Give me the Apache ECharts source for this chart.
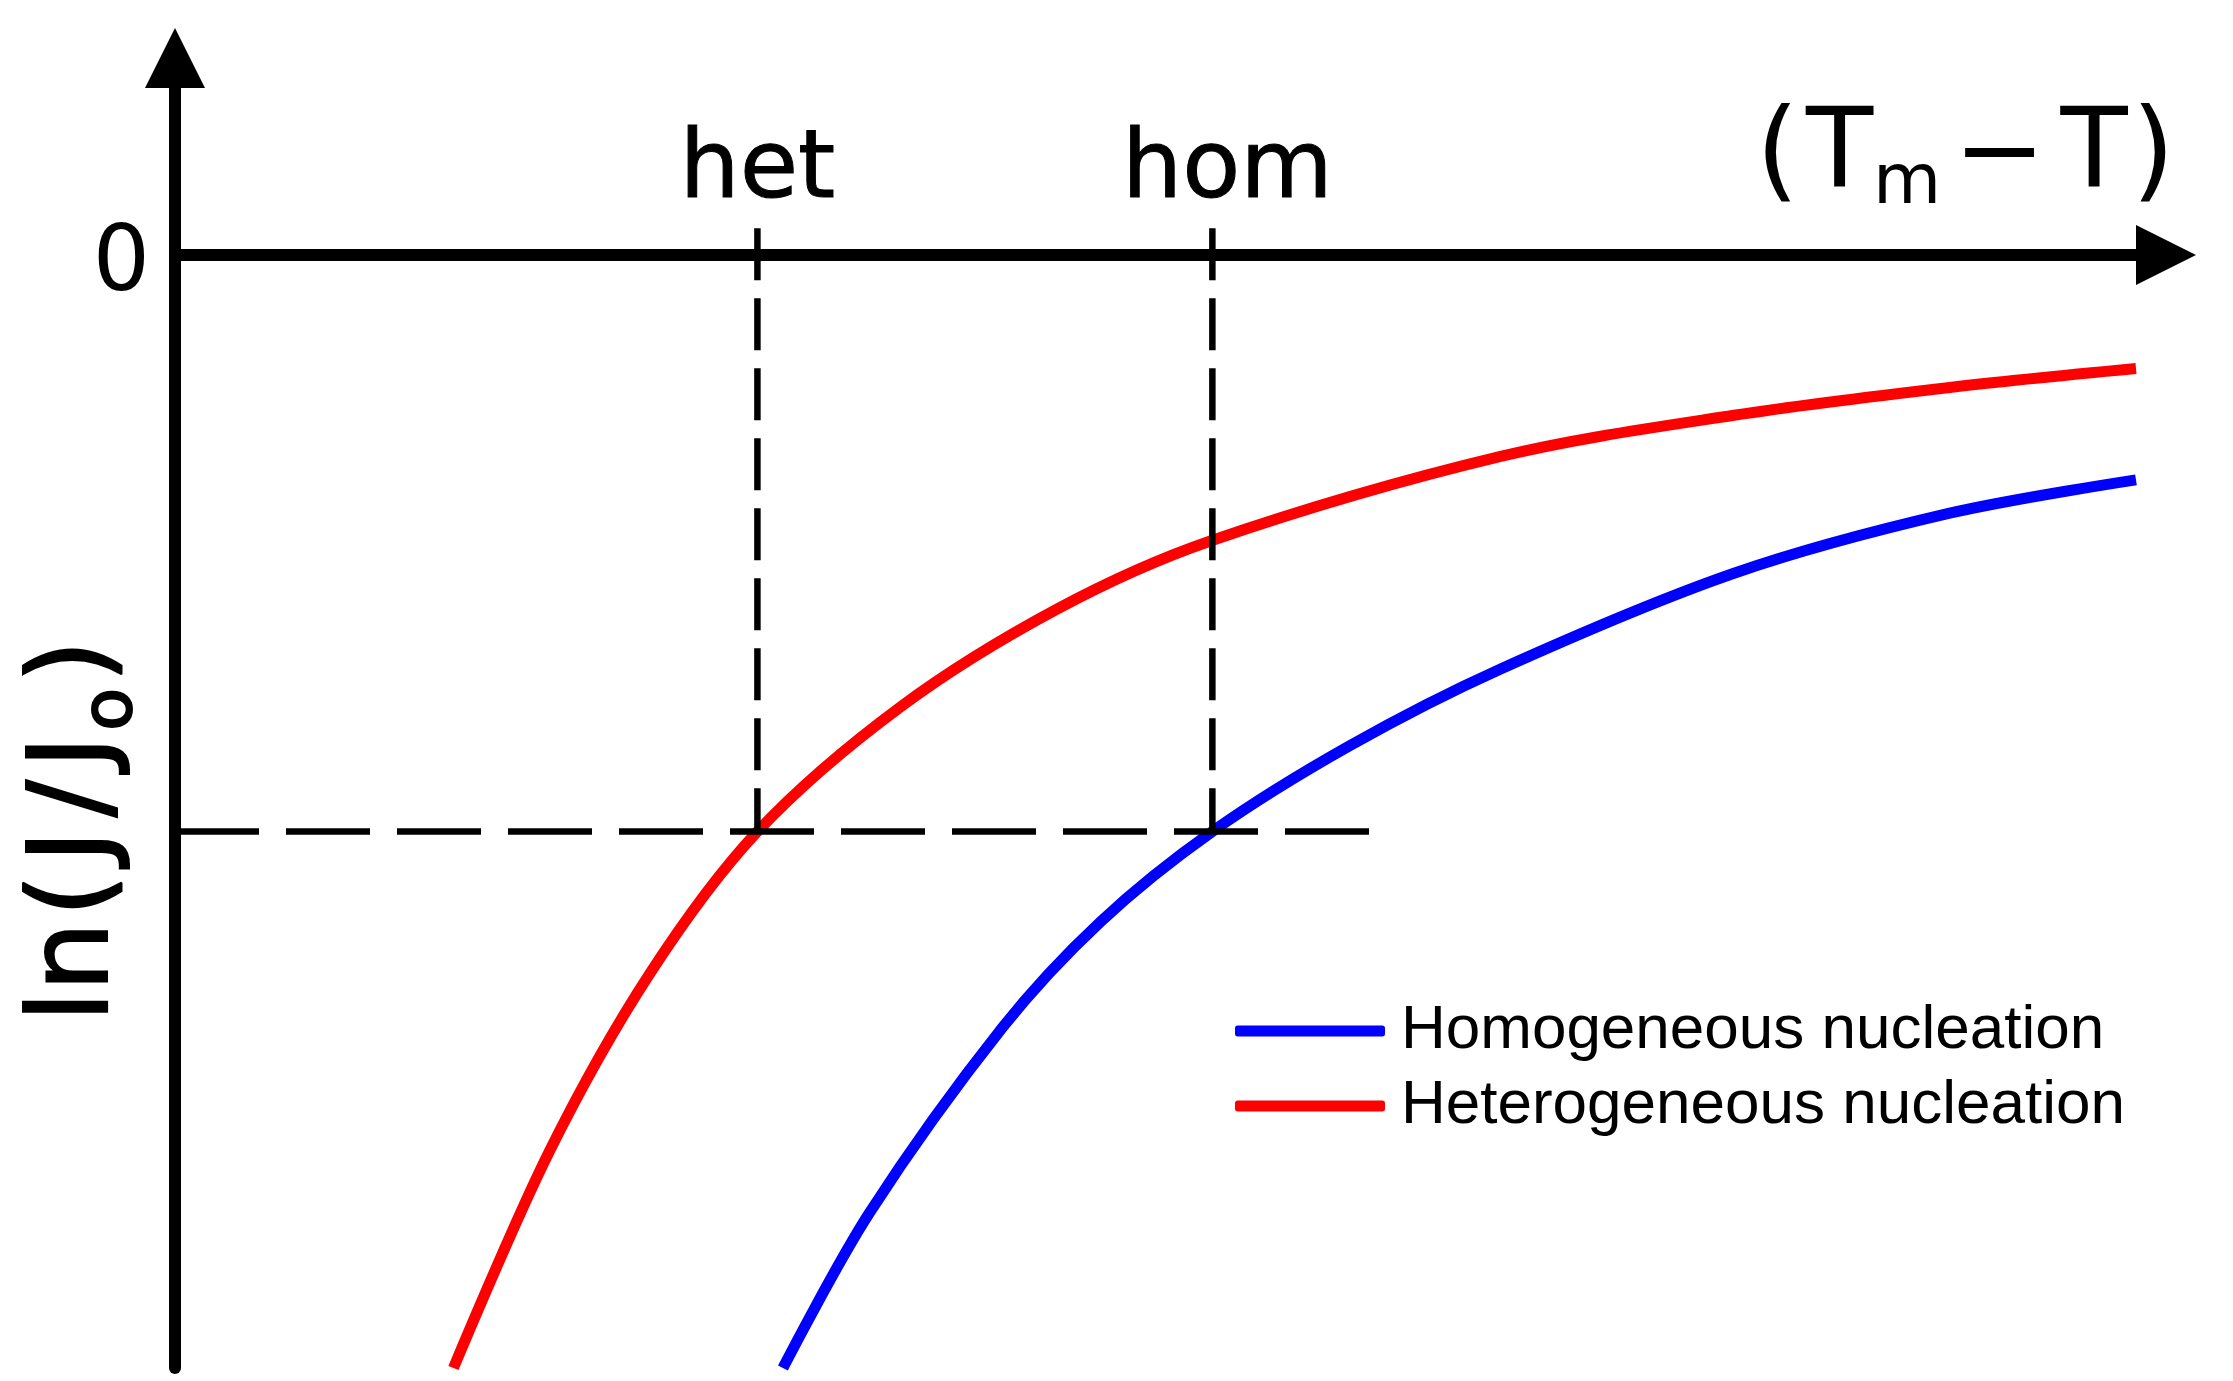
<!DOCTYPE html>
<html>
<head>
<meta charset="utf-8">
<title>ln(J/Jo) against (Tm - T)</title>
<script src="https://cdn.jsdelivr.net/npm/echarts@6/dist/echarts.min.js"></script>
<style>
  html, body { margin: 0; padding: 0; background: #fff; }
  #chart { width: 2233px; height: 1381px; }
</style>
</head>
<body>
<div id="chart"></div>
<script>
// points: [(Tm - T), ln(J/Jo)], arbitrary units
var homogeneous = [
  [31.0, -100], [35.4, -86.1], [42.2, -69.4], [47.2, -59.9], [52.9, -51.8],
  [59.9, -44.1], [67.6, -37.2], [79.5, -28.6], [90.5, -23.2], [100, -20.2]
];
var heterogeneous = [
  [14.2, -100], [19.1, -80.5], [24.2, -64.6], [29.7, -51.8], [37.0, -40.6],
  [45.0, -31.8], [52.8, -25.7], [67.6, -18.1], [79.5, -14.4], [90.5, -11.9],
  [100, -10.2]
];
var seriesNames = ['Homogeneous nucleation', 'Heterogeneous nucleation'];
var markerNames = ['het', 'hom'];
var markerX = [29.7, 52.9];   // where each curve crosses the chosen rate
var levelY = -51.8;           // the chosen ln(J/Jo)
var guideTop = 2.4;
var guideEnd = 60.9;
var yTicks = [0];

var axisFont = 'DejaVu Sans';
var chart = echarts.init(document.getElementById('chart'));

function guide(points, dash) {
  return {
    type: 'line',
    data: points,
    silent: true,
    showSymbol: false,
    symbol: 'none',
    lineStyle: { color: '#000', width: 6.5, type: dash },
    emphasis: { disabled: true }
  };
}

function curve(name, data, color) {
  return {
    name: name,
    type: 'line',
    data: data,
    smooth: 0.33,
    showSymbol: false,
    symbol: 'none',
    lineStyle: { color: color, width: 11 },
    itemStyle: { color: color }
  };
}

var option = {
  backgroundColor: '#fff',
  animation: false,
  grid: { left: 175, right: 67, top: 58, bottom: 13, containLabel: false, outerBoundsMode: 'none' },
  xAxis: {
    type: 'value',
    min: 0,
    max: 101.53,
    position: 'top',
    axisLine: {
      show: true,
      onZero: true,
      symbol: ['none', 'triangle'],
      symbolSize: [60, 60],
      lineStyle: { color: '#000', width: 12 }
    },
    axisTick: { show: false },
    splitLine: { show: false },
    axisLabel: {
      customValues: markerX,
      // labels sit at the grid top, pull them down onto the zero line
      margin: -162,
      color: '#000',
      fontFamily: axisFont,
      fontSize: 95,
      textBorderColor: '#000',
      textBorderWidth: 1,
      formatter: function (v) {
        var i = Math.abs(v - markerX[0]) < Math.abs(v - markerX[1]) ? 0 : 1;
        return i === 1 ? '{r|' + markerNames[i] + '}' : markerNames[i];
      },
      rich: {
        r: {
          fontFamily: axisFont, fontSize: 95, color: '#000',
          textBorderColor: '#000', textBorderWidth: 1, padding: [0, 0, 0, 30]
        }
      }
    }
  },
  yAxis: {
    type: 'value',
    min: -100,
    max: 17.7,
    axisLine: {
      show: true,
      onZero: true,
      symbol: ['none', 'triangle'],
      symbolSize: [60, 60],
      lineStyle: { color: '#000', width: 12 }
    },
    axisTick: { show: false },
    splitLine: { show: false },
    axisLabel: {
      customValues: yTicks,
      margin: 25,
      color: '#000',
      formatter: function (v) { return '{z|' + v + '}'; },
      rich: {
        z: { fontFamily: axisFont, fontSize: 90, color: '#000', verticalAlign: 'middle', padding: [24, 0, 0, 0] }
      }
    }
  },
  legend: {
    data: seriesNames,
    orient: 'vertical',
    left: 1235,
    top: 1000,
    padding: 0,
    itemWidth: 150,
    itemHeight: 11,
    itemGap: 13,
    icon: 'roundRect',
    selectedMode: false,
    textStyle: { fontFamily: 'Liberation Sans', fontSize: 62, color: '#000', padding: [0, 0, 0, 11] }
  },
  graphic: [
    {
      type: 'text',
      x: 1756,
      y: 158,
      style: {
        text: '{p|(}T{m|m}{mi|\u2212}T{q|)}',
        fontFamily: axisFont,
        fontSize: 110,
        fill: '#000',
        align: 'left',
        verticalAlign: 'middle',
        rich: {
          p: { fontFamily: axisFont, fontSize: 110, verticalAlign: 'middle', padding: [0, 7, 0, 0] },
          m: { fontFamily: axisFont, fontSize: 70, verticalAlign: 'middle', padding: [54, 0, 0, 0] },
          mi: { fontFamily: axisFont, fontSize: 110, verticalAlign: 'middle', padding: [0, 15, 0, 12] },
          q: { fontFamily: axisFont, fontSize: 110, verticalAlign: 'middle', padding: [0, 0, 0, 4] }
        }
      }
    },
    {
      type: 'text',
      x: 78,
      y: 828,
      rotation: Math.PI / 2,
      style: {
        text: 'ln{p|(}{j|J}{s|/}{j|J}{o|o}{p|)}',
        fontFamily: axisFont,
        fontSize: 110,
        fill: '#000',
        stroke: '#000',
        lineWidth: 2,
        align: 'center',
        verticalAlign: 'middle',
        rich: {
          p: { fontFamily: axisFont, fontSize: 110, verticalAlign: 'middle', padding: [0, 6, 0, 5] },
          j: { fontFamily: axisFont, fontSize: 110, verticalAlign: 'middle', padding: [0, 5, 0, 5] },
          s: { fontFamily: axisFont, fontSize: 110, verticalAlign: 'middle', padding: [0, 7, 0, 8] },
          o: { fontFamily: axisFont, fontSize: 70, verticalAlign: 'middle', padding: [70, 0, 0, 0] }
        }
      }
    }
  ],
  series: [
    curve(seriesNames[0], homogeneous, '#0000ff'),
    curve(seriesNames[1], heterogeneous, '#ff0000'),
    guide([[markerX[0], guideTop], [markerX[0], levelY]], [52, 18]),
    guide([[markerX[1], guideTop], [markerX[1], levelY]], [52, 18]),
    guide([[0, levelY], [guideEnd, levelY]], [84, 27])
  ]
};

chart.setOption(option);
</script>
</body>
</html>
